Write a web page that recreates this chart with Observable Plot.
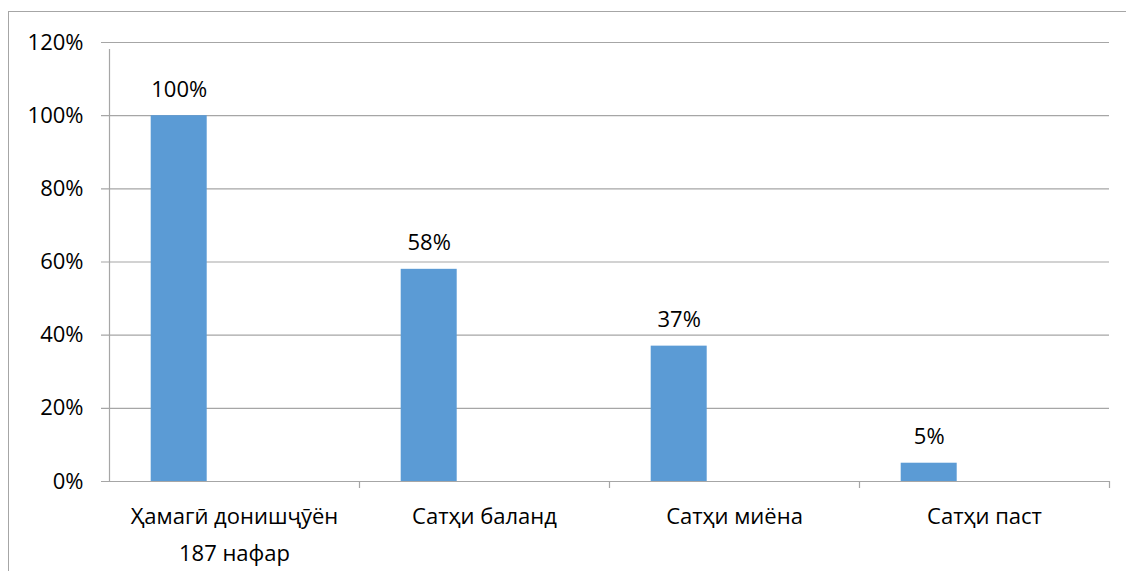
<!DOCTYPE html>
<html>
<head>
<meta charset="utf-8">
<script src="https://cdn.jsdelivr.net/npm/d3@7"></script>
<script src="https://cdn.jsdelivr.net/npm/@observablehq/plot@0.6"></script>
<style>
  html, body { margin: 0; padding: 0; background: #fff; }
  #wrap { position: relative; width: 1126px; height: 571px; overflow: hidden; }
  #border { position: absolute; left: 8px; top: 11px; width: 1130px; height: 580px;
            border-top: 1px solid #a6a6a6; border-left: 1px solid #a6a6a6; box-sizing: border-box; pointer-events: none; }
  #chart { position: absolute; left: 0; top: 0; }
</style>
</head>
<body>
<div id="wrap"><div id="chart"></div><div id="border"></div></div>
<script>
const categories = ["Ҳамагӣ донишҷӯён\n187 нафар", "Сатҳи баланд", "Сатҳи миёна", "Сатҳи паст"];
const values = [100, 58, 37, 5];
const yTicks = [0, 20, 40, 60, 80, 100, 120];

const data = categories.map((c, i) => ({category: c, value: values[i]}));
const bandW = 250;

const chart = Plot.plot({
  width: 1126,
  height: 571,
  marginLeft: 109,
  marginRight: 17,
  marginTop: 42,
  marginBottom: 90,
  style: {fontFamily: "'Open Sans', sans-serif", fontSize: "22px", color: "#000", background: "transparent"},
  x: {domain: categories, padding: 0, axis: null},
  y: {domain: [0, 120], axis: null},
  marks: [
    Plot.ruleY(yTicks, {y: d => d, stroke: "#a6a6a6", strokeWidth: 1.2, insetLeft: -8}),
    Plot.barY(data, {x: "category", y: "value", fill: "#5B9BD5", insetLeft: 41.7, insetRight: bandW - 41.7 - 56}),
    Plot.ruleX(categories.slice(0, 1), {x: d => d, dx: -bandW / 2, y1: 0, y2: 120, stroke: "#a6a6a6", strokeWidth: 1.2, insetBottom: -7}),
    Plot.ruleX(categories, {x: d => d, dx: bandW / 2, y1: 0, y2: 0, stroke: "#a6a6a6", strokeWidth: 1.2, insetBottom: -7}),
    Plot.text(data, {x: "category", y: "value", text: d => d.value + "%", dx: 41.7 + 28 - bandW / 2, dy: -26, fill: "#000"}),
    Plot.axisY(yTicks, {tickSize: 0, tickPadding: 26, tickFormat: d => d + "%", fill: "#000", label: null}),
    Plot.axisX({tickSize: 0, tickPadding: 16, lineHeight: 1.68, fill: "#000", label: null})
  ]
});
document.getElementById("chart").appendChild(chart);
</script>
</body>
</html>
